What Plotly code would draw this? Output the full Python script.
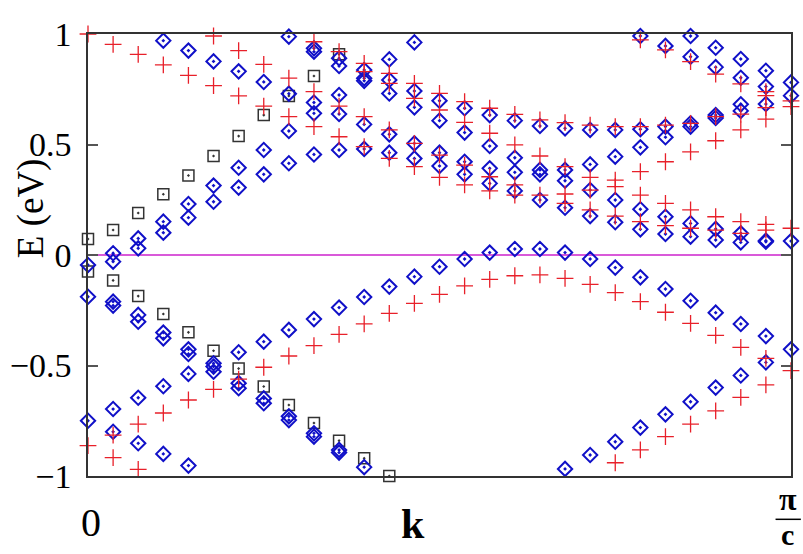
import plotly.graph_objects as go

# Number of k intervals between 0 and pi/c
N_K = 28

# Energies (eV) per k column (index 0..28), for each marker series
red_cols = [
    [1.0, -0.863],
    [0.953, -0.815, -0.917],
    [0.908, -0.765, -0.97],
    [0.86, -0.715],
    [0.813, -0.656],
    [0.991, 0.766, -0.608],
    [0.925, 0.72, -0.562],
    [0.863, 0.674, -0.508],
    [0.80, 0.626, -0.457],
    [0.965, 0.739, 0.581, -0.41],
    [0.92, 0.674, 0.535, -0.359],
    [0.867, 0.83, 0.626, 0.49, -0.312],
    [0.822, 0.777, 0.566, 0.437, -0.264],
    [0.777, 0.709, 0.505, 0.40, -0.219],
    [0.731, 0.656, 0.452, 0.351, -0.178],
    [0.694, 0.60, 0.407, 0.317, -0.14],
    [0.664, 0.551, 0.354, 0.29, -0.11],
    [0.636, 0.498, 0.317, 0.271, -0.094],
    [0.611, 0.448, 0.271, -0.09],
    [0.599, 0.40, 0.276, 0.234, -0.106],
    [0.588, 0.351, 0.294, 0.204, -0.133],
    [0.581, 0.339, 0.309, 0.176, -0.17, -0.94],
    [0.973, 0.581, 0.377, 0.271, 0.151, -0.211, -0.882],
    [0.928, 0.588, 0.422, 0.234, 0.133, -0.259, -0.822],
    [0.875, 0.596, 0.467, 0.204, 0.121, -0.309, -0.765],
    [0.818, 0.626, 0.517, 0.173, 0.113, -0.364, -0.705],
    [0.774, 0.637, 0.566, 0.151, 0.098, -0.418, -0.644],
    [0.739, 0.721, 0.667, 0.615, 0.139, 0.113, -0.468, -0.588],
    [0.697, 0.671, 0.121, -0.523],
]

blue_cols = [
    [-0.045, -0.189, -0.75],
    [0.008, -0.03, -0.211, -0.229, -0.697, -0.80],
    [0.075, 0.03, -0.271, -0.302, -0.646, -0.852],
    [0.97, 0.151, 0.101, -0.351, -0.377, -0.594, -0.90],
    [0.925, 0.231, 0.169, -0.427, -0.448, -0.538, -0.953],
    [0.876, 0.314, 0.241, -0.49, -0.505, -0.528],
    [0.831, 0.395, 0.305, -0.44, -0.58, -0.603],
    [0.783, 0.475, 0.365, -0.392, -0.649, -0.671],
    [0.988, 0.73, 0.561, 0.415, -0.339, -0.73, -0.747],
    [0.935, 0.92, 0.69, 0.641, 0.455, -0.29, -0.807, -0.822],
    [0.89, 0.855, 0.724, 0.638, 0.475, -0.238, -0.882, -0.894],
    [0.837, 0.80, 0.788, 0.591, 0.48, -0.19, -0.96],
    [0.885, 0.792, 0.731, 0.546, 0.463, -0.143],
    [0.962, 0.742, 0.668, 0.505, 0.437, -0.098],
    [0.698, 0.608, 0.463, 0.403, -0.053],
    [0.664, 0.554, 0.422, 0.365, -0.018],
    [0.633, 0.493, 0.392, 0.324, 0.011],
    [0.608, 0.44, 0.374, 0.29, 0.027],
    [0.584, 0.385, 0.365, 0.249, 0.027],
    [0.573, 0.385, 0.336, 0.214, 0.011, -0.968],
    [0.566, 0.41, 0.294, 0.176, -0.018, -0.905],
    [0.566, 0.445, 0.249, 0.148, -0.057, -0.845],
    [0.991, 0.569, 0.487, 0.207, 0.116, -0.101, -0.781],
    [0.946, 0.581, 0.533, 0.173, 0.095, -0.154, -0.721],
    [0.991, 0.897, 0.596, 0.581, 0.143, 0.083, -0.207, -0.664],
    [0.938, 0.85, 0.633, 0.62, 0.118, 0.068, -0.261, -0.60],
    [0.887, 0.802, 0.682, 0.652, 0.098, 0.057, -0.312, -0.545],
    [0.834, 0.762, 0.683, 0.065, 0.06, -0.367, -0.486],
    [0.781, 0.721, 0.063, -0.427],
]

square_upper = [0.072, 0.113, 0.19, 0.275, 0.36, 0.448, 0.538, 0.633, 0.72, 0.81, 0.908]
square_lower = [-0.075, -0.115, -0.186, -0.267, -0.35, -0.433, -0.514, -0.595, -0.679, -0.76, -0.84, -0.92, -1.0]

y_tick_vals = [-1, -0.5, 0, 0.5, 1]
y_tick_text = ["\u22121", "\u22120.5", "0", "0.5", "1"]


def flatten(cols):
    xs, ys = [], []
    for i, col in enumerate(cols):
        for e in col:
            xs.append(i / N_K)
            ys.append(e)
    return xs, ys


rx, ry = flatten(red_cols)
bx, by = flatten(blue_cols)
sx = [i / N_K for i in range(len(square_upper))] + [i / N_K for i in range(len(square_lower))]
sy = square_upper + square_lower

fig = go.Figure()
fig.add_trace(go.Scatter(x=sx, y=sy, mode="markers", cliponaxis=False,
                         marker=dict(symbol="square-open-dot", size=11, color="#333333",
                                     line=dict(width=1.5, color="#333333"))))
fig.add_trace(go.Scatter(x=bx, y=by, mode="markers", cliponaxis=False,
                         marker=dict(symbol="diamond-open-dot", size=11, color="#1010c8",
                                     line=dict(width=2, color="#1010c8"))))
fig.add_trace(go.Scatter(x=rx, y=ry, mode="markers", cliponaxis=False,
                         marker=dict(symbol="cross-thin-open", size=12, color="#e8202a",
                                     line=dict(width=1.3, color="#e8202a"))))

fig.add_shape(type="line", xref="x", yref="y", x0=0, x1=1, y0=0, y1=0,
              line=dict(color="#cc22cc", width=1.3), layer="below")

serif = "Liberation Serif, Times New Roman, serif"

fig.update_layout(
    width=803, height=554,
    margin=dict(l=87, r=10, t=34, b=78),
    paper_bgcolor="white", plot_bgcolor="white",
    showlegend=False,
    font=dict(family=serif, color="black"),
    xaxis=dict(range=[0, 1], showgrid=False, zeroline=False, showticklabels=False,
               ticks="", showline=True, mirror=True, linecolor="#333333", linewidth=1.5),
    yaxis=dict(range=[-1, 1], showgrid=False, zeroline=False,
               tickvals=y_tick_vals, ticktext=y_tick_text,
               ticks="inside", ticklen=10, tickwidth=1.5, tickcolor="#555555",
               tickfont=dict(family=serif, size=34, color="black"),
               ticklabelstandoff=8,
               showline=True, mirror="ticks", linecolor="#333333", linewidth=1.5),
)

fig.add_annotation(text="E (eV)", xref="paper", yref="paper", x=-0.081, y=0.606,
                   textangle=-90, showarrow=False, xanchor="center", yanchor="middle",
                   font=dict(family=serif, size=37, color="black"))
fig.add_annotation(text="0", xref="paper", yref="paper", x=0.004, y=-0.106,
                   showarrow=False, xanchor="center", yanchor="middle",
                   font=dict(family=serif, size=40, color="black"))
fig.add_annotation(text="<b>k</b>", xref="paper", yref="paper", x=0.462, y=-0.108,
                   showarrow=False, xanchor="center", yanchor="middle",
                   font=dict(family=serif, size=42, color="black"))
fig.add_annotation(text="<b>\u03c0</b>", xref="paper", yref="paper", x=0.9955, y=-0.052,
                   showarrow=False, xanchor="center", yanchor="middle",
                   font=dict(family=serif, size=32, color="black"))
fig.add_annotation(text="<b>c</b>", xref="paper", yref="paper", x=0.9955, y=-0.133,
                   showarrow=False, xanchor="center", yanchor="middle",
                   font=dict(family=serif, size=30, color="black"))
fig.add_shape(type="line", xref="paper", yref="paper", x0=0.978, x1=1.014, y0=-0.098, y1=-0.098,
              line=dict(color="black", width=1.5))

fig.write_html("out.html")
